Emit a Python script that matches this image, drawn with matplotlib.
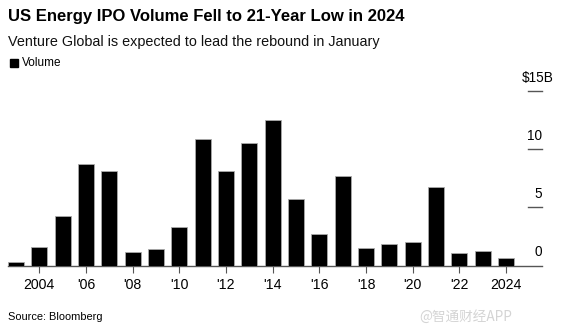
import matplotlib
matplotlib.use("Agg")
import matplotlib.pyplot as plt

years = list(range(2003, 2025))
volume = [0.3, 1.6, 4.3, 8.7, 8.1, 1.2, 1.4, 3.3, 10.9, 8.1, 10.5, 12.5,
          5.7, 2.7, 7.7, 1.5, 1.9, 2.0, 6.8, 1.1, 1.3, 0.7]
tick_years = list(range(2004, 2025, 2))
tick_labels = ["2004", "'06", "'08", "'10", "'12", "'14", "'16", "'18", "'20", "'22", "2024"]
y_ticks = [0, 5, 10, 15]
y_labels = ["0", "5", "10", "$15B"]

plt.rcParams['font.family'] = ['Liberation Sans', 'DejaVu Sans']

W, H = 575, 336
fig = plt.figure(figsize=(W / 100, H / 100), dpi=100)

ax_left, ax_right = 8 / W, 542 / W
ax_bottom = (H - 265.7) / H
ax_top = (H - 91) / H
ax = fig.add_axes([ax_left, ax_bottom, ax_right - ax_left, ax_top - ax_bottom])

ax.bar(years, volume, width=0.69, color='black', edgecolor='#aaaaaa', linewidth=0.6, zorder=3)

ax.set_xlim(2002.66, 2025.54)
ax.set_ylim(0, 15)

for s in ['top', 'right', 'left']:
    ax.spines[s].set_visible(False)
ax.spines['bottom'].set_color('#555555')
ax.spines['bottom'].set_linewidth(1.0)

ax.set_xticks(tick_years)
ax.set_xticklabels(tick_labels, fontsize=10.2, color='black')
ax.tick_params(axis='x', length=5, width=0.8, color='#555555', pad=3.5)
ax.set_yticks([])

# right-side value scale: short dashes with labels above them
for v, lab in zip(y_ticks, y_labels):
    if v > 0:
        ax.plot([2024.95, 2025.54], [v, v], color='#555555', lw=1.0, clip_on=False, zorder=2)
    if v == 15:
        ax.text(2026.05, v + 0.55, lab, ha='right', va='bottom', fontsize=9.8, color='black')
    else:
        ax.text(2025.54, v + 0.55, lab, ha='right', va='bottom', fontsize=9.8, color='black')

fig.text(8 / W, 1 - 16.7 / H, "US Energy IPO Volume Fell to 21-Year Low in 2024",
         fontsize=11.95, fontweight='bold', ha='left', va='center', color='black')
fig.text(8 / W, 1 - 41.7 / H, "Venture Global is expected to lead the rebound in January",
         fontsize=10.4, ha='left', va='center', color='#111111')

# legend
fig.patches.append(plt.Rectangle((10 / W, 1 - 67 / H), 7.5 / W, 8 / H,
                                 transform=fig.transFigure, color='black'))
fig.text(22 / W, 1 - 63 / H, "Volume", fontsize=8.5, ha='left', va='center', color='black')

fig.text(8 / W, 1 - 316.7 / H, "Source: Bloomberg", fontsize=7.9, ha='left', va='center',
         color='black')
fig.text(512 / W, 1 - 316.5 / H, "@智通财经APP", fontsize=9.8, ha='right', va='center',
         color='#d4d4d4', family=['Noto Sans CJK SC', 'DejaVu Sans'])

fig.savefig("out.png", dpi=100, facecolor='white')
